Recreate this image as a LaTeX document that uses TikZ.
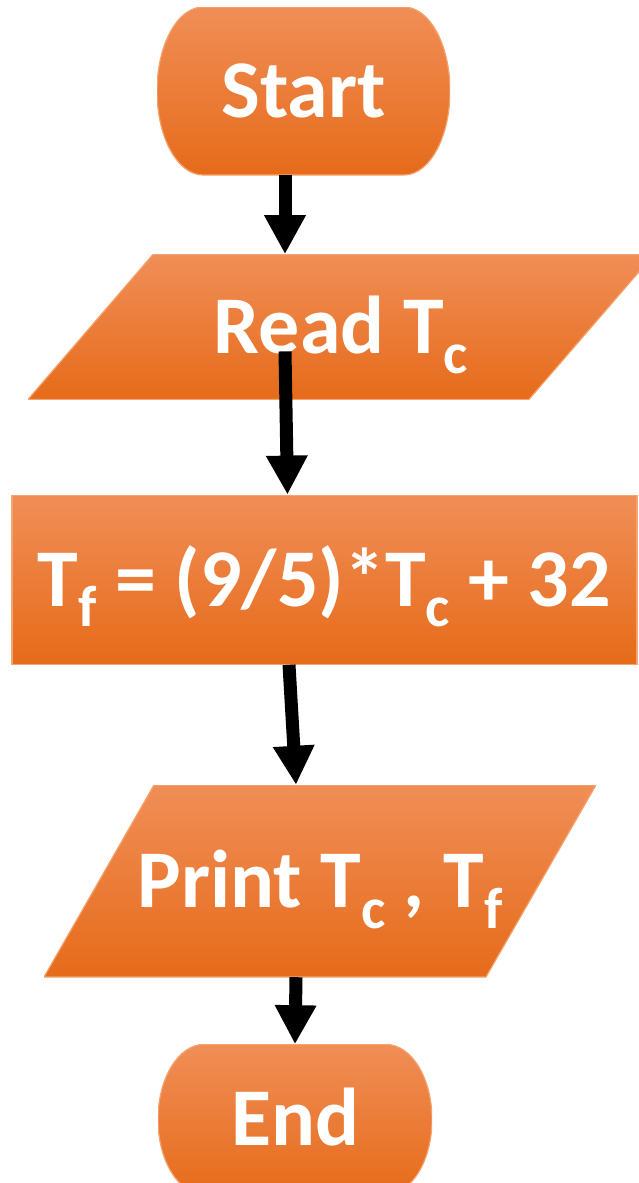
\documentclass[tikz,border=0pt]{standalone}
\usepackage{fontspec}
\setmainfont{Carlito}
\usepackage{xcolor}
\usepackage{tikz}
\usetikzlibrary{positioning, arrows.meta}

\definecolor{boxtop}{HTML}{F08E57}
\definecolor{boxmid}{HTML}{F27B2B}
\definecolor{boxbot}{HTML}{E66B1A}
\definecolor{boxline}{HTML}{F4A46F}

\newcommand{\lowsub}[1]{\raisebox{-0.25em}{\fontsize{58}{58}\selectfont #1}}

\begin{document}
\begin{tikzpicture}[
    every node/.style={
        align=center,
        text=white,
        font=\bfseries\fontsize{82}{98}\selectfont,
        text height=53pt,
        text depth=0pt,
        inner sep=0pt
    },
    shadebox/.style={top color=boxtop, middle color=boxmid, bottom color=boxbot, draw=boxline, line width=1.2pt},
    process/.style={rectangle, shadebox, minimum width=625pt, minimum height=169pt},
    io/.style n args={3}{
        rectangle, minimum width=#1, minimum height=#2,
        path picture={
            \shade[shadebox]
            ([xshift=#3]path picture bounding box.north west)
            -- (path picture bounding box.north east)
            -- ([xshift=-#3]path picture bounding box.south east)
            -- (path picture bounding box.south west)
            -- cycle;
        }
    },
    term/.style 2 args={
        rectangle, minimum width=#1, minimum height=#2,
        path picture={
            \shade[shadebox]
            ([xshift=46pt]path picture bounding box.north west)
            -- ([xshift=-46pt]path picture bounding box.north east)
            arc[start angle=90, end angle=-90, x radius=46pt, y radius=0.5*#2]
            -- ([xshift=46pt]path picture bounding box.south west)
            arc[start angle=270, end angle=90, x radius=46pt, y radius=0.5*#2]
            -- cycle;
        }
    },
    arrow/.style={-{Triangle[length=39pt,width=39pt]}, line width=13pt}
]

\useasboundingbox (0,0) rectangle (638pt,-1183pt);

% Terminal and step nodes
\node[term={293pt}{168pt}] (start) at (303.5pt,-91pt) {Start};

\node[io={626pt}{145pt}{125pt}, below=79pt of start, xshift=37.5pt] (read) {Read T\lowsub{c}};

\node[process, below=95pt of read, xshift=-16.5pt] (formula) {T\lowsub{f} = (9/5)*T\lowsub{c} + 32};

\node[io={552pt}{192pt}{110pt}, below=120pt of formula, xshift=-4.5pt] (print) {Print T\lowsub{c} , T\lowsub{f}};

\node[term={274pt}{150pt}, below=67pt of print, xshift=-25pt] (end) {End};

% Arrows between the steps
\draw[arrow] ([xshift=-18.5pt]start.south) -- ([xshift=-56pt]read.north);
\draw[arrow] ([xshift=-56pt,yshift=-24.5pt]read.center) -- ([xshift=-37pt]formula.north);
\draw[arrow] ([xshift=-35.5pt]formula.south) -- ([xshift=-24pt]print.north);
\draw[arrow] ([xshift=-24pt]print.south) -- (end.north);

\end{tikzpicture}
\end{document}
